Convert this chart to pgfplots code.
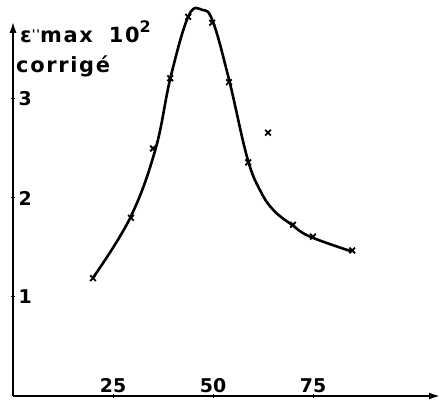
\documentclass[border=0pt]{standalone}
\usepackage{fontspec}
\setmainfont{DejaVu Sans}
\newfontfamily\hand[LetterSpace=8]{DejaVu Sans}
\usepackage{pgfplots}
\pgfplotsset{compat=1.18}
\usetikzlibrary{arrows.meta}
\begin{document}
\begin{tikzpicture}
\path[use as bounding box] (-13bp,-7bp) rectangle (427bp,396bp);
\begin{axis}[
  x=4bp, y=99bp, xmin=0, xmax=106.75, ymin=0, ymax=3.78,
  anchor=origin, at={(0,0)},
  axis lines=left,
  axis line style={line width=1.8bp, -{Latex[length=11bp,width=7bp]}},
  clip=false,
  xtick={25,50,75}, ytick={1,2,3},
  tick style={line width=1bp, black}, major tick length=4bp,
  /pgf/number format/assume math mode=true,
  ticklabel style={font=\bfseries\fontsize{19}{22}\selectfont},
  xticklabel style={anchor=south, yshift=2bp},
  yticklabel style={anchor=west, xshift=4bp},
]
\addplot[line width=2.6bp, smooth, tension=0.65] coordinates {
 (20.1,1.20) (29.3,1.80) (35.6,2.49) (39.4,3.22) (43.9,3.84) (47.3,3.90) (50,3.78)
 (54.1,3.18) (58.6,2.40) (62,2.06) (65.3,1.87) (69.7,1.73) (74.25,1.61) (84.7,1.46)
};
\addplot[only marks, mark=x, mark size=4bp, line width=1.8bp] coordinates {
 (20,1.19) (29.5,1.80) (35,2.50) (39.3,3.21) (43.8,3.83) (49.8,3.77)
 (54,3.17) (58.8,2.36) (70,1.73) (75,1.61) (84.8,1.47) (63.75,2.66)
};
\end{axis}
\node[anchor=base west, inner sep=0pt] at (7bp,353bp)
  {\hand\bfseries\fontsize{21}{24}\selectfont ε\raisebox{4bp}{\fontsize{12}{12}\selectfont''}max\hspace{16bp}10\raisebox{10bp}{\fontsize{16}{16}\selectfont 2}};
\node[anchor=base west, inner sep=0pt] at (3bp,323bp)
  {\hand\bfseries\fontsize{21}{24}\selectfont corrigé};
\end{tikzpicture}
\end{document}
